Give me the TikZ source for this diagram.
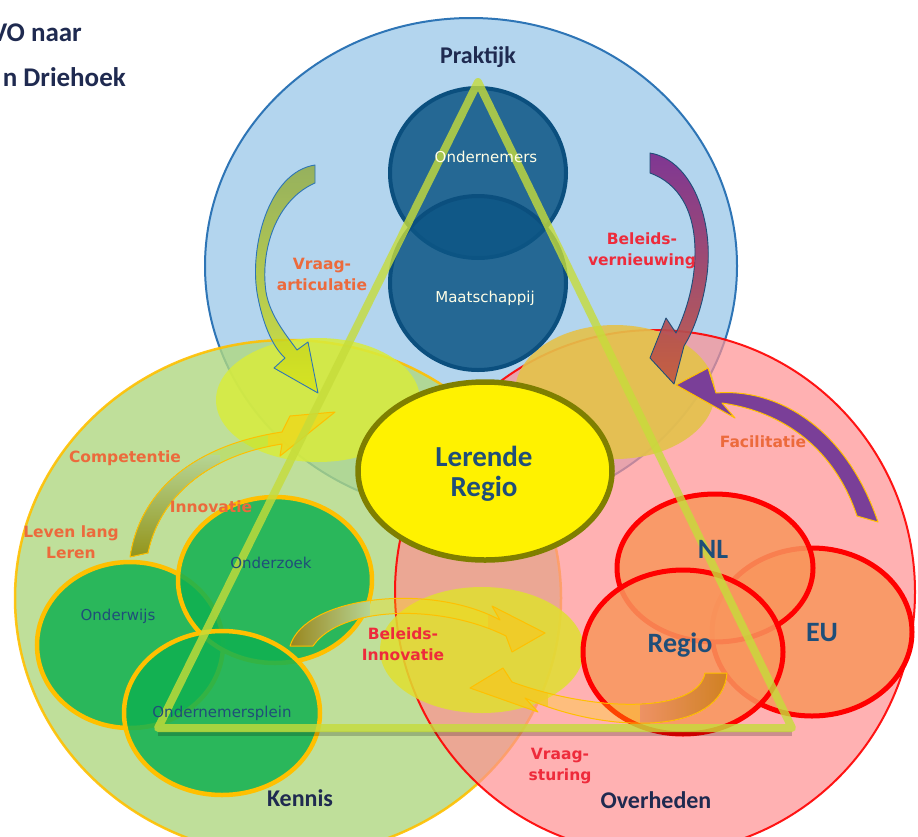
\documentclass[tikz,border=0pt]{standalone}
\usepackage{fontspec}
\setmainfont{Carlito}
\newfontfamily\dv{DejaVu Sans}
\usetikzlibrary{shapes.geometric}
\definecolor{blueBg}{HTML}{B3D5EE}
\definecolor{blueLine}{HTML}{2E75B6}
\definecolor{greenBg}{HTML}{B0D881}
\definecolor{greenSeen}{HTML}{C0E09C}
\definecolor{goldLine}{HTML}{FFC000}
\definecolor{redBg}{HTML}{FF9092}
\definecolor{ovlA}{HTML}{D8EC3C}
\definecolor{ovlB}{HTML}{E4C24A}
\definecolor{ovlC}{HTML}{E0E030}
\definecolor{innerBlue}{HTML}{0D5685}
\definecolor{innerBlueLine}{HTML}{0B4F7E}
\definecolor{innerGreen}{HTML}{10B151}
\definecolor{innerOrange}{HTML}{F9965D}
\definecolor{orangeSeen}{HTML}{FA9A6A}
\definecolor{navy}{HTML}{1F2A50}
\definecolor{darkblue}{HTML}{1F4E79}
\definecolor{labOrange}{HTML}{EC6A3C}
\definecolor{labRed}{HTML}{EE2B3B}
\definecolor{oliveLine}{HTML}{7F7F00}
\definecolor{triCol}{HTML}{C6DC3A}
\definecolor{purpleA}{HTML}{7B2A8C}
\definecolor{purpleC}{HTML}{7A3F98}
\definecolor{oliveTail}{HTML}{9A9A18}
\definecolor{brownTail}{HTML}{A08818}
\definecolor{orangeTail}{HTML}{D8861E}
\definecolor{goldHead}{HTML}{F2C828}
\definecolor{vaTop}{HTML}{8FA83A}
\definecolor{vaBot}{HTML}{D8E418}
\newcommand\arrowDpath{(130,557) .. controls (140,490) and (195,445) .. (282,432) -- (290,416) -- (335,412) -- (280,456) -- (282,444) .. controls (210,455) and (160,495) .. (148,553) -- cycle}
\newcommand\arrowEpath{(290,646) .. controls (305,596) and (430,582) .. (500,620) -- (492,606) -- (545,633) -- (512,652) -- (506,636) .. controls (440,603) and (340,606) .. (313,646) -- cycle}
\newcommand\arrowFpath{(727,673) .. controls (722,735) and (610,735) .. (525,698) -- (538,712) -- (470,688) -- (503,668) -- (512,682) .. controls (600,714) and (698,712) .. (705,673) -- cycle}
\tikzset{
  bigblue/.style={fill=blueBg, draw=blueLine, line width=2pt},
  biggreen/.style={fill=greenBg, fill opacity=.8, draw=goldLine, draw opacity=.9, line width=2.5pt},
  bigred/.style={fill=redBg, fill opacity=.7, draw=red, draw opacity=.9, line width=2pt},
  innerB/.style={fill=innerBlue, fill opacity=.85, draw=innerBlueLine, line width=4pt},
  innerG/.style={fill=innerGreen, fill opacity=.85, draw=goldLine, line width=4.5pt},
  innerR/.style={fill=innerOrange, fill opacity=.85, draw=red, line width=5pt},
  arrowline/.style={line width=1pt, line join=round},
  lab/.style={font=\dv\bfseries\fontsize{15.5}{21}\selectfont, align=center, inner sep=0pt},
  small/.style={font=\dv\fontsize{15}{18}\selectfont, inner sep=0pt},
  head/.style={font=\bfseries\fontsize{24}{28}\selectfont, text=navy, inner sep=0pt},
  big/.style={font=\bfseries\fontsize{28}{30}\selectfont, text=darkblue, inner sep=0pt, align=center},
}
\begin{document}
\begin{tikzpicture}[x=1pt,y=-1pt]
\useasboundingbox (0,0) rectangle (918,836);
\fill[white] (0,0) rectangle (918,836);

% big circles
\draw[bigblue] (471,266) ellipse [x radius=266, y radius=248];
\draw[biggreen] (288,598) ellipse [x radius=273, y radius=258];
\draw[bigred] (655,592) ellipse [x radius=260, y radius=262];

% overlap highlights
\fill[ovlA, opacity=.85] (318,400) ellipse [x radius=102, y radius=62];
\fill[ovlB, opacity=.9] (615,392) ellipse [x radius=100, y radius=67];
\fill[ovlC, opacity=.85] (482,650) ellipse [x radius=102, y radius=63];

% inner blue circles
\draw[innerB] (478,173) ellipse [x radius=88, y radius=85];
\draw[innerB] (478,283) ellipse [x radius=88, y radius=87];

% inner green circles
\draw[innerG] (130,645) ellipse [x radius=93, y radius=83];
\draw[innerG] (275,580) ellipse [x radius=97, y radius=83];
\draw[innerG] (222,713) ellipse [x radius=98, y radius=82];

% inner red circles
\draw[innerR] (812,632) ellipse [x radius=100, y radius=84];
\draw[innerR] (715,568) ellipse [x radius=98, y radius=74];
\draw[innerR] (683,652) ellipse [x radius=100, y radius=82];

% central ellipse
\draw[fill=yellow, draw=oliveLine, line width=5.5pt] (485,471) ellipse [x radius=127, y radius=89];

% arrows
% Vraag-articulatie
\path[arrowline, top color=vaTop, bottom color=vaBot, fill opacity=.8, draw=blueLine, line width=.9pt]
  (315,183) -- (315,165) .. controls (268,172) and (248,250) .. (258,298)
  .. controls (264,328) and (274,348) .. (285,358) -- (274,368) -- (318,393) -- (308,342) -- (297,350)
  .. controls (287,336) and (270,316) .. (266,292) .. controls (260,250) and (276,200) .. (315,183) -- cycle;
% Beleids-vernieuwing
\path[arrowline, top color=purpleA, bottom color=purpleA!45!orange, fill opacity=.92, draw=darkblue, line width=.9pt]
  (650,173) -- (650,153) .. controls (692,160) and (714,220) .. (707,275)
  .. controls (703,305) and (694,330) .. (684,346) -- (674,384) -- (650,358) -- (666,318) -- (676,333)
  .. controls (687,310) and (695,282) .. (695,252) .. controls (695,210) and (678,183) .. (650,173) -- cycle;
% Facilitatie
\path[arrowline, fill=purpleC, draw=goldLine]
  (857,516) .. controls (835,450) and (785,412) .. (722,403) -- (735,418) -- (676,385) -- (708,368) -- (716,393)
  .. controls (775,388) and (845,425) .. (878,522) -- cycle;
% Competentie
\fill[yellow!70!green, fill opacity=.3] \arrowDpath;
\begin{scope}
  \clip \arrowDpath;
  \fill[top color=greenSeen, bottom color=oliveTail, fill opacity=.95] (100,455) rectangle (220,560);
  \fill[goldHead!70!yellow, fill opacity=.7] (268,400) rectangle (345,470);
\end{scope}
\draw[arrowline, draw=goldLine] \arrowDpath;
% Beleids-Innovatie
\fill[yellow!80!orange, fill opacity=.3] \arrowEpath;
\begin{scope}
  \clip \arrowEpath;
  \fill[left color=brownTail, right color=greenSeen, fill opacity=.95] (285,590) rectangle (370,660);
  \fill[goldHead, fill opacity=.75] (488,595) rectangle (550,660);
\end{scope}
\draw[arrowline, draw=goldLine] \arrowEpath;
% Vraag-sturing
\fill[yellow!80!orange, fill opacity=.3] \arrowFpath;
\begin{scope}
  \clip \arrowFpath;
  \fill[left color=orangeSeen, right color=orangeTail, fill opacity=.95] (640,660) rectangle (735,740);
  \fill[goldHead, fill opacity=.8] (460,660) rectangle (548,720);
\end{scope}
\draw[arrowline, draw=goldLine] \arrowFpath;

% triangle
\coordinate (tA) at (478,82);
\coordinate (tB) at (158,728);
\coordinate (tC) at (792,728);
\draw[black, opacity=.2, line width=5pt] ([yshift=-5pt]tB) -- ([yshift=-5pt]tC);
\draw[triCol, opacity=.8, line width=8pt, line join=round] (tA) -- (tB) -- (tC) -- cycle;

% title
\node[anchor=base east, font=\bfseries\fontsize{27}{30}\selectfont, text=navy, inner sep=0pt] (t1) at (82,41) {VO naar};
\node[anchor=base east, font=\bfseries\fontsize{27}{30}\selectfont, text=navy, inner sep=0pt] (t2) at (126,86) {n Driehoek};

% sector headings
\node[head] (prak) at (478,57) {Praktijk};
\node[head] (kenn) at (300,798) {Kennis};
\node[head] (over) at (656,800) {Overheden};

% inner labels
\node[small, text=white!90!yellow] (ond) at (486,157) {Ondernemers};
\node[small, text=white!90!yellow] (maat) at (485,298) {Maatschappij};
\node[small, text=darkblue] (onz) at (271,563) {Onderzoek};
\node[small, text=darkblue] (onw) at (118,616) {Onderwijs};
\node[small, text=darkblue] (onp) at (222,713) {Ondernemersplein};
\node[big] (nl) at (713,549) {NL};
\node[big] (eu) at (822,633) {EU};
\node[big] (reg) at (680,645) {Regio};
\node[big, font=\bfseries\fontsize{29}{30}\selectfont] (ler) at (484,474) {Lerende\\Regio};

% arrow labels
\node[lab, text=labOrange] (va) at (322,274) {Vraag-\\articulatie};
\node[lab, text=labRed] (bv) at (642,251) {Beleids-\\vernieuwing};
\node[lab, text=labOrange] (fac) at (763,442) {Facilitatie};
\node[lab, text=labOrange] (comp) at (125,458) {Competentie};
\node[lab, text=labOrange] (inno) at (211,507) {Innovatie};
\node[lab, text=labOrange] (llr) at (71,542) {Leven lang\\Leren};
\node[lab, text=labRed] (bi) at (403,644) {Beleids-\\Innovatie};
\node[lab, text=labRed] (vs) at (560,766) {Vraag-\\sturing};
\end{tikzpicture}
\end{document}
